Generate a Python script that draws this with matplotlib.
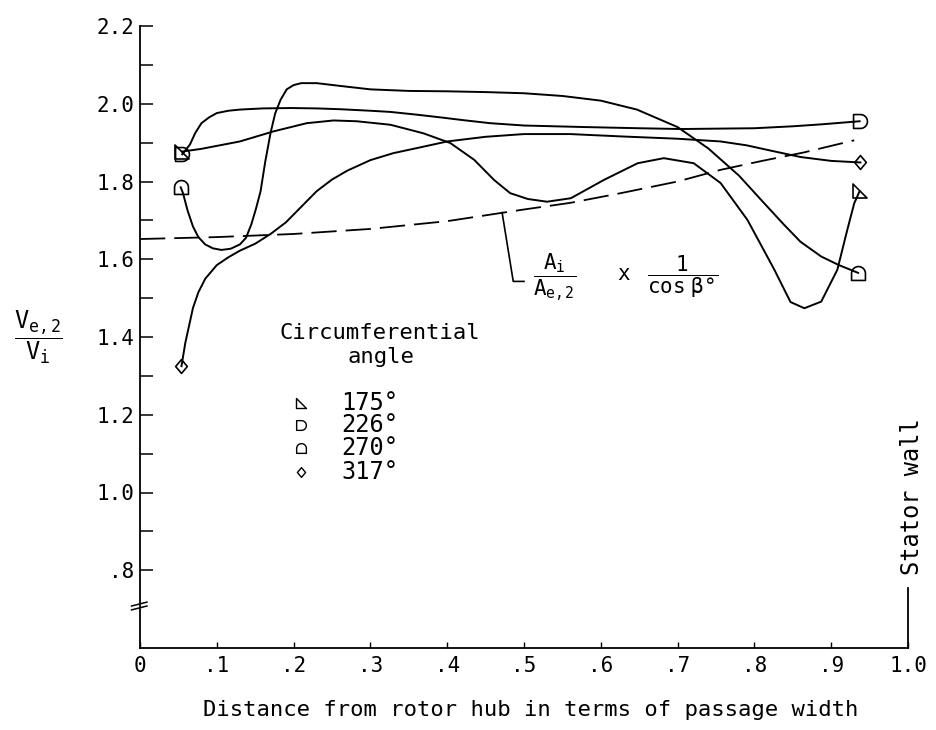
import numpy as np
import matplotlib
matplotlib.use("Agg")
import matplotlib.pyplot as plt
from matplotlib.path import Path

plt.rcParams['font.family'] = ['DejaVu Sans Mono', 'DejaVu Sans']
plt.rcParams['mathtext.fontset'] = 'custom'
plt.rcParams['mathtext.rm'] = 'DejaVu Sans Mono'
plt.rcParams['mathtext.it'] = 'DejaVu Sans Mono'
plt.rcParams['mathtext.bf'] = 'DejaVu Sans Mono:bold'

# ---------------- data ----------------
x_175 = [0.055, 0.08, 0.13, 0.174, 0.217, 0.252, 0.282, 0.326, 0.369, 0.404, 0.435, 0.461,
         0.482, 0.505, 0.53, 0.561, 0.604, 0.648, 0.682, 0.721, 0.756, 0.791, 0.826, 0.847,
         0.865, 0.887, 0.908, 0.921, 0.93, 0.937]
y_175 = [1.877, 1.884, 1.903, 1.929, 1.950, 1.957, 1.955, 1.946, 1.924, 1.899, 1.856, 1.804,
         1.770, 1.755, 1.748, 1.757, 1.804, 1.847, 1.860, 1.847, 1.796, 1.701, 1.573, 1.490,
         1.474, 1.491, 1.573, 1.676, 1.744, 1.775]

x_226 = [0.055, 0.065, 0.072, 0.08, 0.09, 0.10, 0.115, 0.13, 0.16, 0.196, 0.23, 0.26, 0.30,
         0.326, 0.36, 0.391, 0.42, 0.456, 0.50, 0.58, 0.65, 0.704, 0.80, 0.85, 0.887, 0.937]
y_226 = [1.870, 1.895, 1.925, 1.950, 1.965, 1.976, 1.982, 1.985, 1.988, 1.989, 1.988, 1.986,
         1.982, 1.979, 1.972, 1.965, 1.958, 1.950, 1.944, 1.940, 1.937, 1.935, 1.937, 1.942,
         1.947, 1.955]

x_270 = [0.053, 0.056, 0.062, 0.069, 0.076, 0.085, 0.095, 0.106, 0.118, 0.13, 0.138, 0.145,
         0.151, 0.157, 0.163, 0.17, 0.176, 0.183, 0.191, 0.20, 0.21, 0.23, 0.26, 0.30, 0.35,
         0.40, 0.45, 0.50, 0.55, 0.60, 0.647, 0.70, 0.74, 0.78, 0.81, 0.838, 0.86, 0.887,
         0.91, 0.935]
y_270 = [1.785, 1.770, 1.725, 1.684, 1.657, 1.638, 1.628, 1.624, 1.627, 1.638, 1.655, 1.690,
         1.730, 1.775, 1.850, 1.925, 1.975, 2.010, 2.037, 2.048, 2.053, 2.053, 2.046, 2.037,
         2.033, 2.032, 2.030, 2.027, 2.020, 2.008, 1.985, 1.940, 1.885, 1.815, 1.750, 1.690,
         1.645, 1.607, 1.585, 1.565]

x_317 = [0.054, 0.059, 0.064, 0.069, 0.076, 0.085, 0.10, 0.115, 0.13, 0.15, 0.17, 0.19, 0.21,
         0.23, 0.25, 0.27, 0.30, 0.33, 0.37, 0.40, 0.45, 0.50, 0.56, 0.626, 0.70, 0.756, 0.79,
         0.82, 0.86, 0.90, 0.938]
y_317 = [1.325, 1.385, 1.430, 1.475, 1.515, 1.550, 1.585, 1.605, 1.622, 1.640, 1.665, 1.695,
         1.735, 1.775, 1.805, 1.828, 1.855, 1.873, 1.890, 1.903, 1.915, 1.922, 1.922, 1.916,
         1.910, 1.903, 1.893, 1.880, 1.863, 1.853, 1.849]

x_ratio = [0.0, 0.1, 0.2, 0.3, 0.35, 0.4, 0.46, 0.5, 0.56, 0.626, 0.7, 0.756, 0.81, 0.865, 0.93]
y_ratio = [1.652, 1.657, 1.665, 1.678, 1.688, 1.698, 1.716, 1.728, 1.745, 1.770, 1.800, 1.830,
           1.853, 1.875, 1.906]

angles = ['175°', '226°', '270°', '317°']
x_ticks = [0.0, 0.1, 0.2, 0.3, 0.4, 0.5, 0.6, 0.7, 0.8, 0.9, 1.0]
x_ticklabels = ['0', '.1', '.2', '.3', '.4', '.5', '.6', '.7', '.8', '.9', '1.0']
y_ticks = [0.8, 1.0, 1.2, 1.4, 1.6, 1.8, 2.0, 2.2]
y_ticklabels = ['.8', '1.0', '1.2', '1.4', '1.6', '1.8', '2.0', '2.2']
y_minor = [0.9, 1.1, 1.3, 1.5, 1.7, 1.9, 2.1]

# ---------------- marker shapes ----------------
def arc(cx, cy, r, a0, a1, n=24):
    t = np.radians(np.linspace(a0, a1, n))
    return list(zip(cx + r * np.cos(t), cy + r * np.sin(t)))

m_tri = Path([(-0.5, 0.5), (-0.5, -0.5), (0.5, -0.5), (-0.5, 0.5)],
             [Path.MOVETO, Path.LINETO, Path.LINETO, Path.CLOSEPOLY])
v = [(-0.5, -0.5), (-0.5, 0.5), (0.0, 0.5)] + arc(0.0, 0.0, 0.5, 90, -90) + [(-0.5, -0.5)]
m_dee = Path(v, [Path.MOVETO] + [Path.LINETO] * (len(v) - 2) + [Path.CLOSEPOLY])
v = [(-0.5, -0.5), (0.5, -0.5), (0.5, 0.0)] + arc(0.0, 0.0, 0.5, 0, 180) + [(-0.5, -0.5)]
m_arch = Path(v, [Path.MOVETO] + [Path.LINETO] * (len(v) - 2) + [Path.CLOSEPOLY])
m_dia = Path([(0, 0.5), (0.42, 0), (0, -0.5), (-0.42, 0), (0, 0.5)],
             [Path.MOVETO, Path.LINETO, Path.LINETO, Path.LINETO, Path.CLOSEPOLY])
markers = [m_tri, m_dee, m_arch, m_dia]

# ---------------- figure ----------------
fig = plt.figure(figsize=(9.36, 7.30), dpi=100)
ax = fig.add_axes([140 / 936, 82 / 730, 768 / 936, 622 / 730])
ax.set_xlim(0, 1.0)
ax.set_ylim(0.6, 2.2)

lw = 1.4
series = [(x_175, y_175), (x_226, y_226), (x_270, y_270), (x_317, y_317)]
for (xs, ys), mk in zip(series, markers):
    ax.plot(xs, ys, color='black', lw=lw, marker=mk, markevery=[0, -1], ms=10,
            mfc='none', mec='black', mew=1.2, clip_on=False, zorder=3)

ax.plot(x_ratio, y_ratio, color='black', lw=1.3, ls=(0, (14, 5)), zorder=2)

# leader + formula label
ax.plot([0.4715, 0.486, 0.500], [1.720, 1.543, 1.543], color='black', lw=1.2)
ax.text(0.512, 1.555, r'$\dfrac{A_i}{A_{e,2}}$', fontsize=15, ha='left', va='center')
ax.text(0.629, 1.563, 'x', fontsize=15, ha='center', va='center')
ax.text(0.660, 1.555, r'$\dfrac{1}{\cos\ \beta\degree}$', fontsize=15, ha='left', va='center')

# legend (drawn by hand)
ax.text(0.312, 1.41, 'Circumferential', fontsize=16, ha='center', va='center')
ax.text(0.314, 1.349, 'angle', fontsize=16, ha='center', va='center')
leg_y = [1.230, 1.173, 1.114, 1.052]
for mk, lab, yy in zip(markers, angles, leg_y):
    ax.plot([0.209], [yy], marker=mk, ms=7, mfc='none', mec='black', mew=1.0, ls='none')
    ax.text(0.262, yy, lab, fontsize=17, ha='left', va='center')

# axes styling
for s in ['top', 'right']:
    ax.spines[s].set_visible(False)
for s in ['left', 'bottom']:
    ax.spines[s].set_linewidth(1.3)
ax.set_xticks(x_ticks)
ax.set_xticklabels(x_ticklabels, fontsize=15)
ax.set_yticks(y_ticks)
ax.set_yticklabels(y_ticklabels, fontsize=15)
ax.set_yticks(y_minor, minor=True)
ax.tick_params(axis='y', which='both', direction='in', length=9, width=1.1, pad=4)
ax.tick_params(axis='x', which='both', direction='in', length=4, width=1.0, pad=6)

# axis break mark
ax.plot([-0.011, 0.009], [0.698, 0.708], color='black', lw=1.1, clip_on=False)
ax.plot([-0.011, 0.009], [0.708, 0.718], color='black', lw=1.1, clip_on=False)

# stator wall marker
ax.plot([1.0, 1.0], [0.6, 0.755], color='black', lw=1.3, clip_on=False)
ax.text(1.005, 0.99, 'Stator wall', rotation=90, fontsize=17, ha='center', va='center')

# axis titles
fig.text(531 / 936, 1 - 710 / 730, 'Distance from rotor hub in terms of passage width',
         fontsize=16, ha='center', va='center')
fig.text(38 / 936, 1 - 337 / 730, r'$\dfrac{V_{e,2}}{V_i}$', fontsize=17,
         ha='center', va='center')

fig.savefig('out.png', dpi=100)
